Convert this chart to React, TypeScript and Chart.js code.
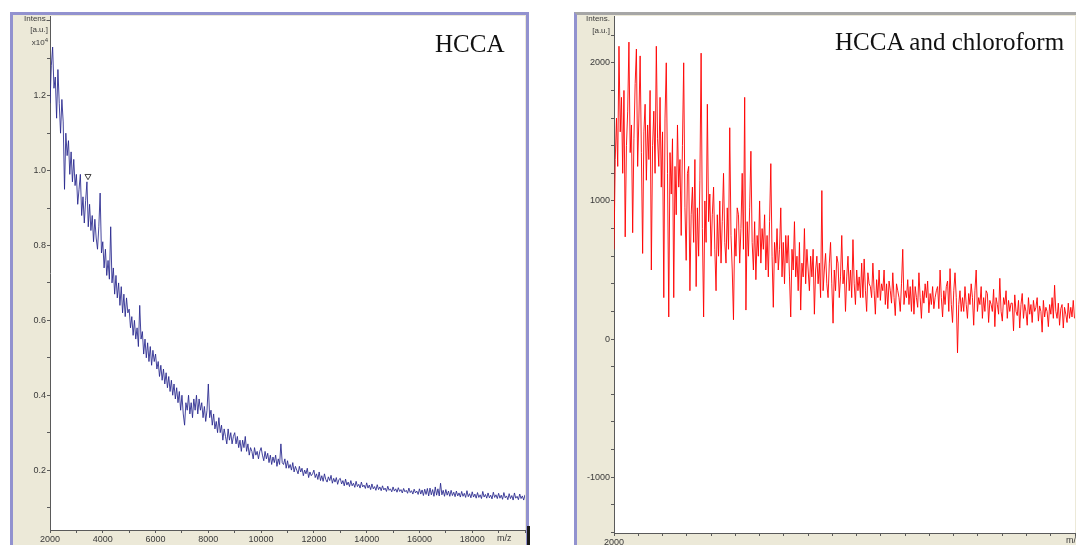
import React, { useEffect, useRef } from "react";
import { Chart, registerables } from "chart.js";

Chart.register(...registerables);

// ---------- data ----------
const MZ_START = 2000;
const MZ_STEP = 50;

// HCCA spectrum, intensity in units of 10^4, one value every 50 m/z from 2000 to 20000
const hccaIntensity = [
  1.18, 1.28, 1.33, 1.22, 1.25, 1.14, 1.27, 1.18, 1.1, 1.19, 1.13, 0.95, 1.1, 1.04, 1.08, 0.99, 1.05, 0.97, 1.03, 0.96,
  0.99, 0.91, 0.95, 0.99, 0.88, 0.93, 0.86, 0.92, 0.97, 0.85, 0.91, 0.84, 0.88, 0.81, 0.87, 0.82, 0.79, 0.85, 0.94, 0.78,
  0.81, 0.74, 0.79, 0.72, 0.76, 0.71, 0.85, 0.7, 0.74, 0.67, 0.72, 0.66, 0.7, 0.64, 0.69, 0.62, 0.67, 0.61, 0.66, 0.62,
  0.63, 0.58, 0.61, 0.56, 0.6, 0.55, 0.58, 0.53, 0.64, 0.55, 0.57, 0.51, 0.55, 0.5, 0.54, 0.49, 0.53, 0.48, 0.52, 0.49,
  0.51, 0.47, 0.49, 0.45, 0.48, 0.44, 0.47, 0.43, 0.46, 0.42, 0.45, 0.41, 0.44, 0.4, 0.43, 0.39, 0.42, 0.38, 0.41, 0.36,
  0.4, 0.35, 0.32, 0.38, 0.36, 0.4, 0.35, 0.38, 0.34, 0.39, 0.36, 0.4, 0.35, 0.39, 0.36, 0.38, 0.34, 0.37, 0.33, 0.36,
  0.43, 0.34, 0.36, 0.32, 0.35, 0.31, 0.33, 0.3, 0.34, 0.3, 0.32, 0.28, 0.31, 0.29, 0.27, 0.31, 0.28, 0.3, 0.27, 0.29,
  0.3, 0.27, 0.29, 0.26, 0.28, 0.25, 0.28, 0.26, 0.29, 0.25, 0.27, 0.24, 0.26, 0.25, 0.23, 0.26, 0.24, 0.25, 0.23, 0.25,
  0.26, 0.24, 0.225, 0.25, 0.23, 0.245, 0.22, 0.24, 0.215, 0.235, 0.22, 0.24, 0.21, 0.23, 0.215, 0.27, 0.22, 0.215, 0.23, 0.205,
  0.225, 0.205, 0.215, 0.2, 0.22, 0.195, 0.21, 0.2, 0.19, 0.21, 0.195, 0.205, 0.185, 0.2, 0.19, 0.205, 0.18, 0.195, 0.185, 0.19,
  0.2, 0.18, 0.19, 0.175, 0.195, 0.172, 0.185, 0.17, 0.19, 0.175, 0.168, 0.182, 0.172, 0.186, 0.165, 0.178, 0.168, 0.18, 0.162, 0.175,
  0.178, 0.163, 0.172, 0.158, 0.176, 0.16, 0.168, 0.156, 0.172, 0.158, 0.165, 0.154, 0.17, 0.156, 0.162, 0.152, 0.168, 0.155, 0.16, 0.151,
  0.166, 0.152, 0.16, 0.148, 0.163, 0.15, 0.156, 0.146, 0.161, 0.148, 0.155, 0.145, 0.158, 0.147, 0.152, 0.143, 0.157, 0.146, 0.15, 0.142,
  0.155, 0.144, 0.15, 0.141, 0.153, 0.143, 0.148, 0.139, 0.151, 0.142, 0.146, 0.138, 0.152, 0.14, 0.145, 0.136, 0.149, 0.139, 0.144, 0.135,
  0.15, 0.136, 0.147, 0.132, 0.149, 0.135, 0.151, 0.131, 0.152, 0.134, 0.148, 0.13, 0.155, 0.133, 0.15, 0.131, 0.165, 0.134, 0.146, 0.13,
  0.148, 0.133, 0.144, 0.13, 0.146, 0.132, 0.141, 0.129, 0.144, 0.131, 0.139, 0.128, 0.143, 0.13, 0.138, 0.127, 0.145, 0.129, 0.137, 0.126,
  0.142, 0.128, 0.136, 0.125, 0.14, 0.127, 0.134, 0.124, 0.143, 0.128, 0.135, 0.125, 0.139, 0.126, 0.133, 0.123, 0.141, 0.127, 0.134, 0.124,
  0.138, 0.125, 0.133, 0.122, 0.14, 0.126, 0.131, 0.121, 0.137, 0.124, 0.132, 0.12, 0.139, 0.125, 0.13, 0.121, 0.136, 0.124, 0.131, 0.12,
  0.134,
];

// HCCA and chloroform spectrum, intensity in a.u., one value every 50 m/z from 2000 to 20500
const chloroformIntensity = [
  650, 1300, 1600, 1250, 2120, 1500, 1750, 1200, 1800, 740, 1400, 1650, 2150, 1350, 1550, 770, 1450, 1850, 2100, 1250,
  1600, 2050, 1350, 620, 1500, 1700, 1150, 1550, 1300, 1800, 500, 1400, 1650, 1200, 2120, 1450, 1250, 1750, 1100, 1500,
  300, 1600, 2000, 1200, 160, 1350, 1050, 1450, 300, 1250, 900, 1550, 1100, 1300, 750, 1400, 2000, 950, 570, 1200,
  1250, 350, 900, 1100, 700, 1300, 380, 950, 600, 1150, 2070, 800, 160, 1000, 700, 1700, 850, 1050, 600, 900,
  1100, 650, 350, 900, 600, 1000, 550, 850, 1200, 700, 550, 950, 650, 1530, 750, 500, 140, 800, 600, 950,
  900, 550, 800, 1200, 650, 1750, 210, 850, 600, 950, 1360, 700, 500, 850, 430, 750, 600, 1000, 550, 800,
  650, 900, 500, 750, 450, 850, 1270, 600, 230, 700, 550, 800, 500, 650, 950, 450, 700, 400, 750, 550,
  750, 450, 160, 650, 500, 850, 450, 600, 350, 700, 210, 550, 450, 800, 400, 650, 500, 350, 600, 450,
  650, 180, 500, 600, 400, 550, 300, 1075, 350, 500, 620, 400, 300, 550, 700, 400, 115, 500, 350, 600,
  550, 300, 450, 750, 400, 500, 200, 450, 600, 350, 500, 300, 720, 400, 250, 500, 350, 450, 300, 550,
  300, 580, 350, 200, 480, 400, 380, 300, 550, 350, 180, 430, 300, 500, 280, 400, 350, 500, 250, 400,
  220, 420, 350, 260, 480, 300, 170, 400, 350, 300, 200, 400, 650, 250, 350, 300, 430, 250, 380, 200,
  430, 180, 380, 300, 230, 480, 300, 150, 350, 260, 400, 300, 420, 190, 330, 250, 380, 220, 300, 350,
  380, 220, 500, 300, 160, 350, 250, 380, 420, 200, 510, 250, 120, 350, 480, 300, -100, 250, 350, 200,
  300, 200, 380, 250, 150, 330, 250, 400, 300, 100, 350, 500, 200, 300, 250, 380, 150, 300, 200, 350,
  330, 120, 280, 250, 200, 360, 90, 300, 250, 180, 440, 200, 130, 300, 250, 350, 150, 280, 200, 260,
  260, 60, 320, 200, 170, 280, 80, 250, 330, 150, 250, 200, 100, 300, 180, 250, 120, 280, 200, 230,
  300, 130, 240, 200, 50, 280, 160, 230, 200, 90, 250, 180, 300, 150, 390, 200, 150, 260, 100, 220,
  250, 80, 230, 180, 120, 260, 150, 230, 160, 280, 150,
];

const hccaPeakMarker = [{ x: 3440, y: 0.985 }];

const hccaXLabels = [2000, 4000, 6000, 8000, 10000, 12000, 14000, 16000, 18000];
const hccaYLabels = [0.2, 0.4, 0.6, 0.8, 1.0, 1.2];
const chloroformXLabels = [2000, 4000, 6000, 8000, 10000, 12000, 14000, 16000, 18000];
const chloroformYLabels = [-1000, 0, 1000, 2000];

// ---------- style ----------
const BEIGE = "#ece9d8";
const FRAME = "#9292cf";
const AXIS = "#5a5a5a";
const TICK_FONT = { family: "'Liberation Sans', Arial, sans-serif", size: 9 };

const bgPlugin = {
  id: "panelBg",
  beforeDraw(chart: any) {
    const { ctx, chartArea, width, height } = chart;
    ctx.save();
    ctx.fillStyle = BEIGE;
    ctx.fillRect(0, 0, width, height);
    ctx.fillStyle = "#ffffff";
    ctx.fillRect(
      chartArea.left,
      chartArea.top,
      chartArea.right - chartArea.left,
      chartArea.bottom - chartArea.top
    );
    ctx.restore();
  },
};

function toPoints(values: number[]) {
  return values.map((y, i) => ({ x: MZ_START + i * MZ_STEP, y }));
}

function near(a: number, b: number) {
  return Math.abs(a - b) < 1e-6;
}

function zeroPadding(s: any) {
  s.paddingLeft = 0;
  s.paddingRight = 0;
  s.paddingTop = 0;
  s.paddingBottom = 0;
}

function buildConfig(p: {
  values: number[];
  color: string;
  xMax: number;
  yMin: number;
  yMax: number;
  yStep: number;
  xLabels: number[];
  yLabels: number[];
  yFormat: (v: number) => string;
  yAxisWidth: number;
  xAxisHeight: number;
  extra?: any[];
}): any {
  const datasets: any[] = [
    {
      type: "line",
      data: toPoints(p.values),
      borderColor: p.color,
      borderWidth: 1,
      pointRadius: 0,
      tension: 0,
      fill: false,
    },
    ...(p.extra || []),
  ];
  const grid = {
    display: true,
    drawOnChartArea: false,
    drawTicks: true,
    tickLength: 3,
    color: AXIS,
  };
  return {
    type: "line",
    data: { datasets },
    plugins: [bgPlugin],
    options: {
      animation: false,
      responsive: false,
      parsing: false,
      normalized: true,
      events: [],
      layout: { autoPadding: false, padding: { left: 0, right: 1, top: 1, bottom: 0 } },
      plugins: {
        legend: { display: false },
        tooltip: { enabled: false },
        title: { display: false },
      },
      scales: {
        x: {
          type: "linear",
          min: 2000,
          max: p.xMax,
          border: { display: true, color: AXIS, width: 1 },
          grid,
          afterFit: (s: any) => {
            s.height = p.xAxisHeight;
            zeroPadding(s);
          },
          ticks: {
            stepSize: 1000,
            maxTicksLimit: 100,
            autoSkip: false,
            maxRotation: 0,
            minRotation: 0,
            includeBounds: false,
            padding: 1,
            color: "#3a3a3a",
            font: TICK_FONT,
            callback: (v: any) => (p.xLabels.some((l) => near(l, v)) ? String(v) : ""),
          },
        },
        y: {
          type: "linear",
          min: p.yMin,
          max: p.yMax,
          border: { display: true, color: AXIS, width: 1 },
          grid,
          afterFit: (s: any) => {
            s.width = p.yAxisWidth;
            zeroPadding(s);
          },
          ticks: {
            stepSize: p.yStep,
            maxTicksLimit: 100,
            autoSkip: false,
            includeBounds: false,
            padding: 1,
            color: "#3a3a3a",
            font: TICK_FONT,
            callback: (v: any) =>
              p.yLabels.some((l) => near(l, v)) ? p.yFormat(Number(v)) : "",
          },
        },
      },
    },
  };
}

function useChart(ref: React.RefObject<HTMLCanvasElement>, make: () => any) {
  useEffect(() => {
    if (!ref.current) return;
    const chart = new Chart(ref.current, make());
    return () => chart.destroy();
  }, []);
}

const smallText: React.CSSProperties = {
  position: "absolute",
  fontFamily: "'Liberation Sans', Arial, sans-serif",
  fontSize: 8,
  color: "#3a3a3a",
  textAlign: "right",
  whiteSpace: "nowrap",
};

const titleText: React.CSSProperties = {
  position: "absolute",
  fontFamily: "'Liberation Serif', 'Times New Roman', serif",
  fontSize: 25,
  lineHeight: "25px",
  color: "#111",
  whiteSpace: "nowrap",
};

export default function App() {
  const leftRef = useRef<HTMLCanvasElement>(null);
  const rightRef = useRef<HTMLCanvasElement>(null);

  useChart(leftRef, () =>
    buildConfig({
      values: hccaIntensity,
      color: "rgba(36,36,140,0.85)",
      xMax: 20000,
      yMin: 0.04,
      yMax: 1.413,
      yStep: 0.1,
      xLabels: hccaXLabels,
      yLabels: hccaYLabels,
      yFormat: (v) => v.toFixed(1),
      yAxisWidth: 37,
      xAxisHeight: 20,
      extra: [
        {
          type: "scatter",
          data: hccaPeakMarker,
          pointStyle: "triangle",
          rotation: 180,
          pointRadius: 3.5,
          backgroundColor: "#ffffff",
          borderColor: "#444444",
          borderWidth: 1,
          showLine: false,
        },
      ],
    })
  );

  useChart(rightRef, () =>
    buildConfig({
      values: chloroformIntensity,
      color: "rgba(255,0,0,0.9)",
      xMax: 20520,
      yMin: -1404,
      yMax: 2339,
      yStep: 200,
      xLabels: chloroformXLabels,
      yLabels: chloroformYLabels,
      yFormat: (v) => String(Math.round(v)),
      yAxisWidth: 37,
      xAxisHeight: 17,
    })
  );

  return (
    <div
      style={{
        position: "fixed",
        left: 0,
        top: 0,
        width: 1076,
        height: 545,
        overflow: "hidden",
        background: "#ffffff",
      }}
    >
      {/* left panel */}
      <div
        style={{
          position: "absolute",
          left: 10,
          top: 12,
          width: 513,
          height: 540,
          border: `3px solid ${FRAME}`,
          background: BEIGE,
        }}
      >
        <canvas ref={leftRef} width={513} height={535} style={{ display: "block" }} />
      </div>
      <div style={{ ...smallText, left: 13, top: 13, width: 35, lineHeight: "11px" }}>
        <div>Intens.</div>
        <div>[a.u.]</div>
        <div>
          x10<sup style={{ fontSize: 6, verticalAlign: "3px" }}>4</sup>
        </div>
      </div>
      <div style={{ ...smallText, left: 497, top: 533, textAlign: "left", fontSize: 9 }}>m/z</div>
      <div style={{ ...titleText, left: 435, top: 31 }}>HCCA</div>
      <div
        style={{
          position: "absolute",
          left: 527,
          top: 526,
          width: 3,
          height: 19,
          background: "#1a1a1a",
        }}
      />

      {/* right panel */}
      <div
        style={{
          position: "absolute",
          left: 574,
          top: 12,
          width: 520,
          height: 540,
          borderLeft: `3px solid ${FRAME}`,
          borderTop: "3px solid #a6a6a6",
          background: BEIGE,
        }}
      >
        <canvas ref={rightRef} width={499} height={535} style={{ display: "block" }} />
      </div>
      <div style={{ ...smallText, left: 577, top: 13, width: 33, lineHeight: "12px" }}>
        <div>Intens.</div>
        <div>[a.u.]</div>
      </div>
      <div style={{ ...smallText, left: 1066, top: 535, textAlign: "left", fontSize: 9 }}>m/z</div>
      <div style={{ ...titleText, left: 835, top: 29 }}>HCCA and chloroform</div>
    </div>
  );
}
